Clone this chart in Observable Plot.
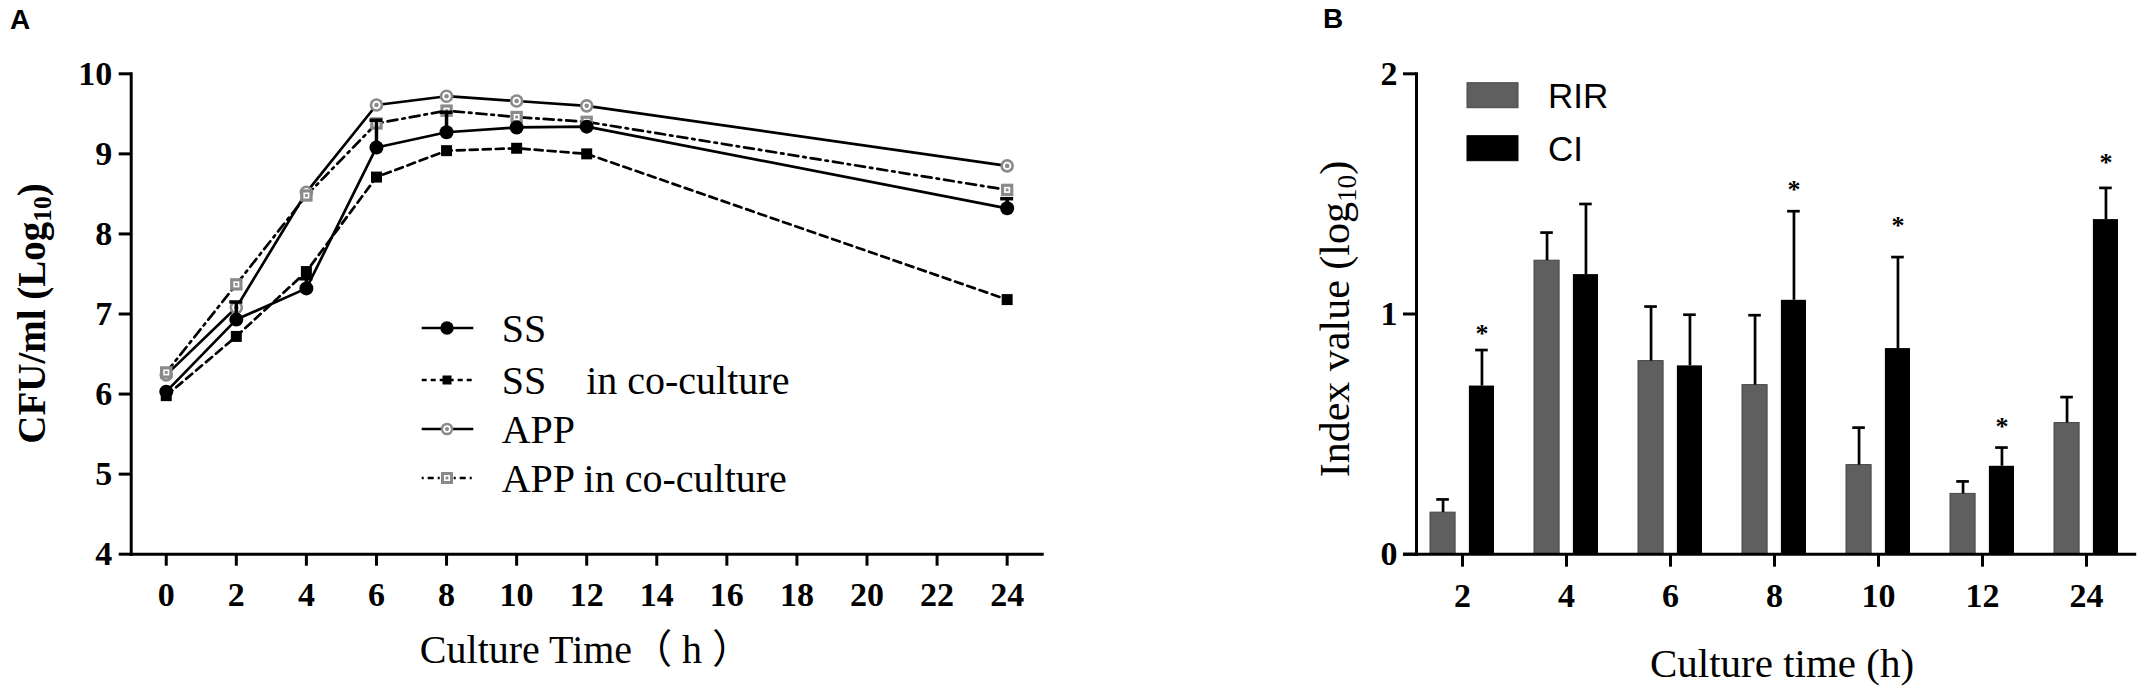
<!DOCTYPE html>
<html><head><meta charset="utf-8">
<script src="https://cdn.jsdelivr.net/npm/d3@7"></script>
<script src="https://cdn.jsdelivr.net/npm/@observablehq/plot@0.6"></script>
<style>
body{margin:0;background:#fff;}
#wrap{position:relative;width:2150px;height:697px;overflow:hidden;background:#fff;}
#wrap > svg{position:absolute;top:0;}
</style></head><body><div id="wrap"></div>
<script>
// ---------- Panel A data ----------
const hours = [0, 2, 4, 6, 8, 10, 12, 24];
const ss    = [6.03, 6.93, 7.32, 9.08, 9.27, 9.33, 9.34, 8.32];
const ssErr = [null, 7.15, 7.44, 9.42, 9.52, null, null, 8.44]; // upper end of SD bar
const ssCo  = [5.98, 6.72, 7.53, 8.71, 9.04, 9.07, 9.00, 7.18];
const app   = [6.24, 7.08, 8.52, 9.61, 9.72, 9.66, 9.60, 8.85];
const appCo = [6.27, 7.37, 8.48, 9.38, 9.54, 9.46, 9.40, 8.55];
const xTicksA = [0, 2, 4, 6, 8, 10, 12, 14, 16, 18, 20, 22, 24];
const yTicksA = [4, 5, 6, 7, 8, 9, 10];
const legendA = ["SS", "SS    in co-culture", "APP", "APP in co-culture"];

// ---------- Panel B data ----------
const timesB = ["2", "4", "6", "8", "10", "12", "24"];
const rir    = [0.173, 1.222, 0.804, 0.704, 0.371, 0.251, 0.546];
const rirErr = [0.228, 1.339, 1.031, 0.995, 0.527, 0.303, 0.654];
const ci     = [0.700, 1.164, 0.784, 1.057, 0.856, 0.366, 1.393];
const ciErr  = [0.850, 1.458, 0.997, 1.428, 1.237, 0.444, 1.525];
const starTimes = ["2", "8", "10", "12", "24"];
const starY     = [0.942, 1.541, 1.393, 0.557, 1.653];
const yTicksB = [0, 1, 2];
const legendB = ["RIR", "CI"];

const serif = '"Liberation Serif","Times New Roman",serif';
const sans = '"Liberation Sans",Arial,sans-serif';
const GRAY = "#8a8a8a";
const wrap = document.getElementById("wrap");

// ---------- Panel A ----------
const rowsA = hours.map((h, i) => ({h, ss: ss[i], ssErr: ssErr[i], ssCo: ssCo[i], app: app[i], appCo: appCo[i]}));
const errA = rowsA.filter(d => d.ssErr != null);

const plotA = Plot.plot({
  width: 1075, height: 697,
  marginLeft: 130.7, marginRight: 33.3, marginTop: 73.3, marginBottom: 143.3,
  x: {domain: [-1, 25]},
  y: {domain: [4, 10]},
  style: {background: "transparent", fontFamily: serif, color: "black", overflow: "visible"},
  marks: [
    Plot.line(rowsA, {x: "h", y: "app", stroke: "black", strokeWidth: 2.7}),
    Plot.line(rowsA, {x: "h", y: "appCo", stroke: "black", strokeWidth: 2.7, strokeDasharray: "10,5,2.5,5"}),
    Plot.line(rowsA, {x: "h", y: "ss", stroke: "black", strokeWidth: 2.7}),
    Plot.line(rowsA, {x: "h", y: "ssCo", stroke: "black", strokeWidth: 2.7, strokeDasharray: "8,5"}),
    // APP markers (grey ring)
    Plot.dot(rowsA, {x: "h", y: "app", r: 6.8, fill: GRAY}),
    Plot.dot(rowsA, {x: "h", y: "app", r: 4.2, fill: "white"}),
    Plot.dot(rowsA, {x: "h", y: "app", r: 2.3, fill: GRAY}),
    // APP in co-culture markers (grey hollow square)
    Plot.dot(rowsA, {x: "h", y: "appCo", symbol: "square", r: 7, fill: GRAY}),
    Plot.dot(rowsA, {x: "h", y: "appCo", symbol: "square", r: 3.4, fill: "white"}),
    Plot.dot(rowsA, {x: "h", y: "appCo", symbol: "square", r: 1.6, fill: GRAY}),
    // SS error bars
    Plot.ruleX(errA, {x: "h", y1: "ss", y2: "ssErr", stroke: "black", strokeWidth: 3.5}),
    Plot.ruleY(errA, {y: "ssErr", x1: "h", x2: "h", insetLeft: -6.5, insetRight: -6.5, stroke: "black", strokeWidth: 3.5}),
    // SS markers
    Plot.dot(rowsA, {x: "h", y: "ssCo", symbol: "square", r: 6.2, fill: "black"}),
    Plot.dot(rowsA, {x: "h", y: "ss", r: 7, fill: "black"}),
    // axes
    Plot.frame({anchor: "left", stroke: "black", strokeWidth: 3}),
    Plot.frame({anchor: "bottom", stroke: "black", strokeWidth: 3}),
    Plot.axisX({ticks: xTicksA, tickSize: 12, tickPadding: 16, stroke: "black", strokeWidth: 3,
      fontSize: 34, fontWeight: "bold", fontFamily: serif, fill: "black", label: null, tickFormat: d => String(d)}),
    Plot.axisY({ticks: yTicksA, tickSize: 12, tickPadding: 7, stroke: "black", strokeWidth: 3,
      fontSize: 34, fontWeight: "bold", fontFamily: serif, fill: "black", label: null, tickFormat: d => String(d)})
  ]
});
plotA.style.left = "0px";
wrap.appendChild(plotA);

// ---------- Panel B ----------
const rowsB = timesB.map((t, i) => ({t, rir: rir[i], rirErr: rirErr[i], ci: ci[i], ciErr: ciErr[i]}));
const stars = starTimes.map((t, i) => ({t, y: starY[i]}));
const bw = 64.4, barW = 25.5, off = (bw - barW) / 2, capIn = barW / 2 - 6.5;

const plotB = Plot.plot({
  width: 1075, height: 697,
  marginLeft: 341, marginRight: 17.8, marginTop: 73.3, marginBottom: 143.3,
  x: {domain: timesB, paddingInner: 0.382, paddingOuter: 0.1276, align: 0.5},
  y: {domain: [0, 2]},
  style: {background: "transparent", fontFamily: serif, color: "black", overflow: "visible"},
  marks: [
    Plot.barY(rowsB, {x: "t", y: "rir", fill: "#5f5f5f", stroke: "#474747", strokeWidth: 1, insetRight: bw - barW}),
    Plot.barY(rowsB, {x: "t", y: "ci", fill: "black", insetLeft: bw - barW}),
    Plot.ruleX(rowsB, {x: "t", y1: "rir", y2: "rirErr", dx: -off, stroke: "black", strokeWidth: 2.7}),
    Plot.tickY(rowsB, {x: "t", y: "rirErr", insetLeft: capIn, insetRight: bw - barW + capIn, stroke: "black", strokeWidth: 2.7}),
    Plot.ruleX(rowsB, {x: "t", y1: "ci", y2: "ciErr", dx: off, stroke: "black", strokeWidth: 2.7}),
    Plot.tickY(rowsB, {x: "t", y: "ciErr", insetLeft: bw - barW + capIn, insetRight: capIn, stroke: "black", strokeWidth: 2.7}),
    Plot.text(stars, {x: "t", y: "y", text: () => "*", dx: off, dy: 6, fontSize: 26, fontWeight: "bold", fontFamily: serif, fill: "black"}),
    Plot.frame({anchor: "left", stroke: "black", strokeWidth: 3}),
    Plot.ruleY([0], {stroke: "black", strokeWidth: 3, insetLeft: -13, insetRight: -4}),
    Plot.axisX({tickSize: 13, tickPadding: 16, stroke: "black", strokeWidth: 3,
      fontSize: 34, fontWeight: "bold", fontFamily: serif, fill: "black", label: null}),
    Plot.axisY({ticks: yTicksB, tickSize: 13, tickPadding: 6, stroke: "black", strokeWidth: 3,
      fontSize: 34, fontWeight: "bold", fontFamily: serif, fill: "black", label: null, tickFormat: d => String(d)})
  ]
});
plotB.style.left = "1075px";
wrap.appendChild(plotB);

// ---------- Overlay: panel letters, axis titles, legends ----------
const ov = d3.select(wrap).append("svg")
  .attr("width", 2150).attr("height", 697)
  .style("left", "0px").style("pointer-events", "none");

ov.append("text").attr("x", 10).attr("y", 29).attr("font-family", sans).attr("font-weight", "bold")
  .attr("font-size", 28).text("A");
ov.append("text").attr("x", 1323).attr("y", 28).attr("font-family", sans).attr("font-weight", "bold")
  .attr("font-size", 28).text("B");

function ylabel(x, y, size, weight, main, sub) {
  const t = ov.append("text").attr("transform", `translate(${x},${y}) rotate(-90)`)
    .attr("text-anchor", "middle").attr("font-family", serif).attr("font-size", size)
    .attr("font-weight", weight);
  t.append("tspan").text(main);
  t.append("tspan").attr("font-size", size * 0.65).attr("dy", size * 0.16).text(sub);
  t.append("tspan").attr("dy", -size * 0.16).text(")");
}
ylabel(45, 313.5, 39, "bold", "CFU/ml (Log", "10");
ylabel(1349, 319, 42, "normal", "Index value (log", "10");

ov.append("text").attr("x", 586).attr("y", 663).attr("text-anchor", "middle")
  .attr("font-family", serif + ',"Noto Sans CJK SC"').attr("font-size", 40)
  .style("white-space", "pre").text("Culture Time（ h ）");
ov.append("text").attr("x", 1782).attr("y", 677).attr("text-anchor", "middle")
  .attr("font-family", serif).attr("font-size", 41).text("Culture time (h)");

// Legend A
const legY = [328, 380, 429, 478];
const dashes = [null, "5,4", null, "2,4,6,4"];
legendA.forEach((label, i) => {
  const y = legY[i];
  const g = ov.append("g");
  g.append("line").attr("x1", 421.7).attr("x2", 473.3).attr("y1", y).attr("y2", y)
    .attr("stroke", "black").attr("stroke-width", 2.4).attr("stroke-dasharray", dashes[i]);
  if (i === 0) g.append("circle").attr("cx", 447).attr("cy", y).attr("r", 6.7).attr("fill", "black");
  if (i === 1) g.append("rect").attr("x", 447 - 4.5).attr("y", y - 4.5).attr("width", 9).attr("height", 9).attr("fill", "black");
  if (i === 2) {
    g.append("circle").attr("cx", 447).attr("cy", y).attr("r", 6.3).attr("fill", GRAY);
    g.append("circle").attr("cx", 447).attr("cy", y).attr("r", 3.8).attr("fill", "white");
    g.append("circle").attr("cx", 447).attr("cy", y).attr("r", 2).attr("fill", GRAY);
  }
  if (i === 3) {
    g.append("rect").attr("x", 447 - 6).attr("y", y - 6).attr("width", 12).attr("height", 12).attr("fill", GRAY);
    g.append("rect").attr("x", 447 - 3).attr("y", y - 3).attr("width", 6).attr("height", 6).attr("fill", "white");
    g.append("rect").attr("x", 447 - 1.4).attr("y", y - 1.4).attr("width", 2.8).attr("height", 2.8).attr("fill", GRAY);
  }
  g.append("text").attr("x", 501.7).attr("y", y + 13.5).attr("font-family", serif).attr("font-size", 40)
    .attr("xml:space", "preserve").style("white-space", "pre").text(label);
});

// Legend B
const legBY = [82.7, 135.7];
const legBFill = ["#5f5f5f", "black"];
legendB.forEach((label, i) => {
  ov.append("rect").attr("x", 1467).attr("y", legBY[i]).attr("width", 51).attr("height", 25)
    .attr("fill", legBFill[i]).attr("stroke", i === 0 ? "#474747" : "black").attr("stroke-width", 1);
  ov.append("text").attr("x", 1548).attr("y", legBY[i] + 25.5).attr("font-family", sans)
    .attr("font-size", 35).text(label);
});
</script></body></html>
